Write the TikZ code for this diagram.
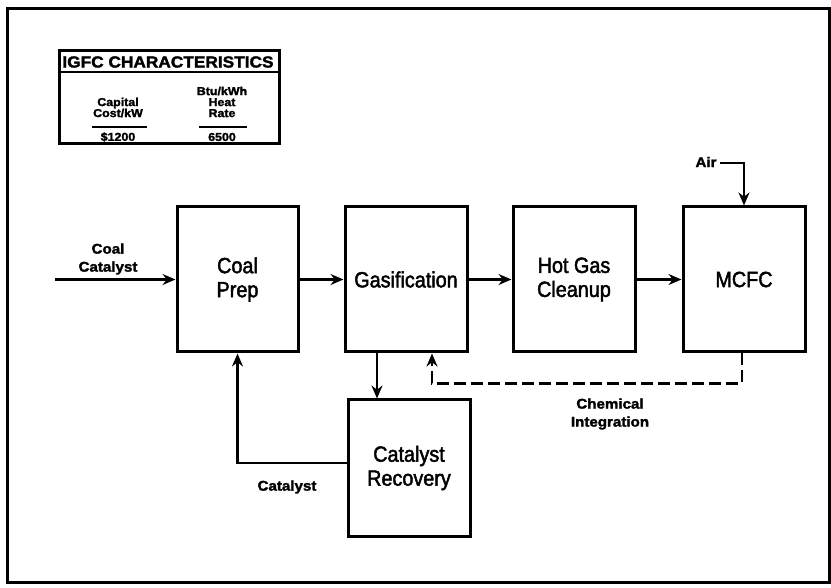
\documentclass[tikz,border=0pt]{standalone}
\usepackage{fontspec}
\setmainfont{Liberation Sans}
\newfontfamily\boxfont[FakeStretch=0.9,FakeBold=2]{Liberation Sans}
\newfontfamily\labfont[FakeStretch=1.08,FakeBold=2]{Liberation Sans Bold}
\usetikzlibrary{arrows.meta}
\begin{document}
\begin{tikzpicture}[x=1pt,y=-1pt,
  box/.style={draw,line width=3pt,minimum width=121pt,minimum height=145pt,
    align=center,inner sep=0pt,font=\boxfont\fontsize{22}{24}\selectfont},
  arr/.style={line width=2.6pt,-{Stealth[length=13pt,width=11pt]}},
  lab/.style={align=center,inner sep=0pt,font=\labfont\fontsize{14}{18}\selectfont},
  tab/.style={align=center,inner sep=0pt,font=\labfont\fontsize{11.5}{11}\selectfont}]
\useasboundingbox (0,0) rectangle (831,588);
% outer border
\draw[line width=3pt] (7,9) rectangle (829,582);
% table
\draw[line width=3pt] (59,51) rectangle (279,144);
\draw[line width=2pt] (59,72) -- (279,72);
\node[lab,font=\labfont\fontsize{16}{18}\selectfont] (th) at (168,62) {IGFC CHARACTERISTICS};
\node[tab] (t1) at (118,107.5) {Capital\\Cost/kW};
\node[tab] (t2) at (222,102) {Btu/kWh\\Heat\\Rate};
\draw[line width=2pt] (92,127) -- (147,127);
\draw[line width=2pt] (199,127) -- (247,127);
\node[tab] (v1) at (118,137) {\$1200};
\node[tab] (v2) at (222,137) {6500};
% boxes
\node[box] (cp) at (237.5,279.5) {Coal\\Prep};
\node[box,minimum width=122pt] (gas) at (406,279.5) {Gasification};
\node[box,minimum width=122pt] (hgc) at (574,279.5) {Hot Gas\\Cleanup};
\node[box,minimum width=122pt] (mcfc) at (744,279.5) {MCFC};
\node[box,minimum width=122pt,minimum height=136pt] (cr) at (409,468) {Catalyst\\Recovery};
% inputs
\coordinate (cin) at (55,279.5);
\coordinate (air) at (720,163);
\node[lab] (lcoal) at (108,259) {Coal\\Catalyst};
\node[lab] (lair) at (706,162) {Air};
% connectors
\draw[arr] (cin) -- (cp.west);
\draw[arr] (cp.east) -- (gas.west);
\draw[arr] (gas.east) -- (hgc.west);
\draw[arr] (hgc.east) -- (mcfc.west);
\draw[arr] (air) -| (mcfc.north);
\draw[arr] ([xshift=-29pt]gas.south) -- ([xshift=-29pt]gas.south |- cr.north);
\draw[arr,dash pattern=on 12pt off 5pt] ([xshift=-2pt]mcfc.south) -- ++(0,30) -| ([xshift=26pt]gas.south);
\draw[arr] ([yshift=5pt]cr.west) -| (cp.south);
\node[lab] (lchem) at (610,414) {Chemical\\Integration};
\node[lab] (lcat) at (287,487) {Catalyst};
\end{tikzpicture}
\end{document}
